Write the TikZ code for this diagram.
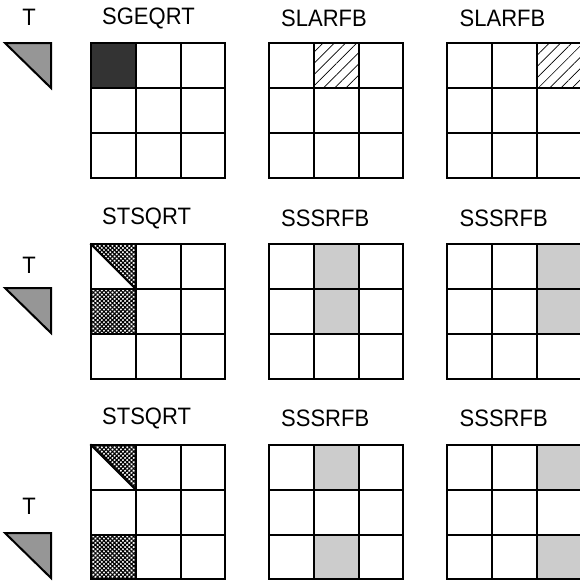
\documentclass[tikz,border=0pt]{standalone}
\usepackage{fontspec}
\setmainfont{Liberation Sans}
\usetikzlibrary{patterns, patterns.meta, positioning}
\definecolor{tfactorgray}{RGB}{150, 150, 150}
\definecolor{panelblack}{RGB}{51, 51, 51}
\definecolor{updategray}{RGB}{204, 204, 204}

\tikzset{
    kernel/.style={anchor=west, inner sep=0pt, yscale=1.08, font=\fontsize{22}{24}\selectfont},
    tlabel/.style={inner sep=0pt, yscale=1.08, font=\fontsize{22}{24}\selectfont},
    tfactor/.style={draw, line width=2pt, fill=tfactorgray, line join=miter},
    gridline/.style={line width=2pt, line cap=rect},
    hatched/.style={pattern={Lines[angle=45, distance=8pt, line width=0.7pt]}},
    crossed/.style={pattern={Hatch[angle=45, distance=3pt, line width=1.1pt]}},
    tile/.style={shift={#1}, x=44.8pt, y=-44.8pt}
}

% 3x3 tile grid
\newcommand{\tilegrid}{%
    \foreach \i in {0,...,3} {
        \draw[gridline] (\i,0) -- (\i,3);
        \draw[gridline] (0,\i) -- (3,\i);
    }}

\begin{document}
\begin{tikzpicture}[x=1pt, y=-1pt]
    \useasboundingbox (0,0) rectangle (580,581);

    % T factors
    \draw[tfactor] (5,43) -- (51,43) -- (51,88) -- cycle;
    \node[tlabel] (t1) at (29,17) {T};
    \draw[tfactor] (5,288) -- (51,288) -- (51,333) -- cycle;
    \node[tlabel] (t2) at (29,265) {T};
    \draw[tfactor] (5,533) -- (51,533) -- (51,578) -- cycle;
    \node[tlabel] (t3) at (29,506) {T};

    % Row 1
    \node[kernel] (geqrt) at (102,18) {SGEQRT};
    \node[kernel] (larfb1) at (281,18) {SLARFB};
    \node[kernel] (larfb2) at (459.5,18) {SLARFB};
    \begin{scope}[tile={(91,43.3)}]
        \fill[panelblack] (0,0) rectangle (1,1);
        \tilegrid
    \end{scope}
    \begin{scope}[tile={(269,43.3)}]
        \fill[hatched] (1,0) rectangle (2,1);
        \tilegrid
    \end{scope}
    \begin{scope}[tile={(447,43.3)}]
        \fill[hatched] (2,0) rectangle (3,1);
        \tilegrid
    \end{scope}

    % Row 2
    \node[kernel] (tsqrt1) at (102,218) {STSQRT};
    \node[kernel] (ssrfb1) at (281,218) {SSSRFB};
    \node[kernel] (ssrfb2) at (459.5,218) {SSSRFB};
    \begin{scope}[tile={(91,244.3)}]
        \fill[crossed] (0,0) -- (1,0) -- (1,1) -- cycle;
        \fill[crossed] (0,1) rectangle (1,2);
        \draw[gridline] (0,0) -- (1,1);
        \tilegrid
    \end{scope}
    \begin{scope}[tile={(269,244.3)}]
        \fill[updategray] (1,0) rectangle (2,2);
        \tilegrid
    \end{scope}
    \begin{scope}[tile={(447,244.3)}]
        \fill[updategray] (2,0) rectangle (3,2);
        \tilegrid
    \end{scope}

    % Row 3
    \node[kernel] (tsqrt2) at (102,418) {STSQRT};
    \node[kernel] (ssrfb3) at (281,418) {SSSRFB};
    \node[kernel] (ssrfb4) at (459.5,418) {SSSRFB};
    \begin{scope}[tile={(91,445)}]
        \fill[crossed] (0,0) -- (1,0) -- (1,1) -- cycle;
        \fill[crossed] (0,2) rectangle (1,3);
        \draw[gridline] (0,0) -- (1,1);
        \tilegrid
    \end{scope}
    \begin{scope}[tile={(269,445)}]
        \fill[updategray] (1,0) rectangle (2,1);
        \fill[updategray] (1,2) rectangle (2,3);
        \tilegrid
    \end{scope}
    \begin{scope}[tile={(447,445)}]
        \fill[updategray] (2,0) rectangle (3,1);
        \fill[updategray] (2,2) rectangle (3,3);
        \tilegrid
    \end{scope}
\end{tikzpicture}
\end{document}
